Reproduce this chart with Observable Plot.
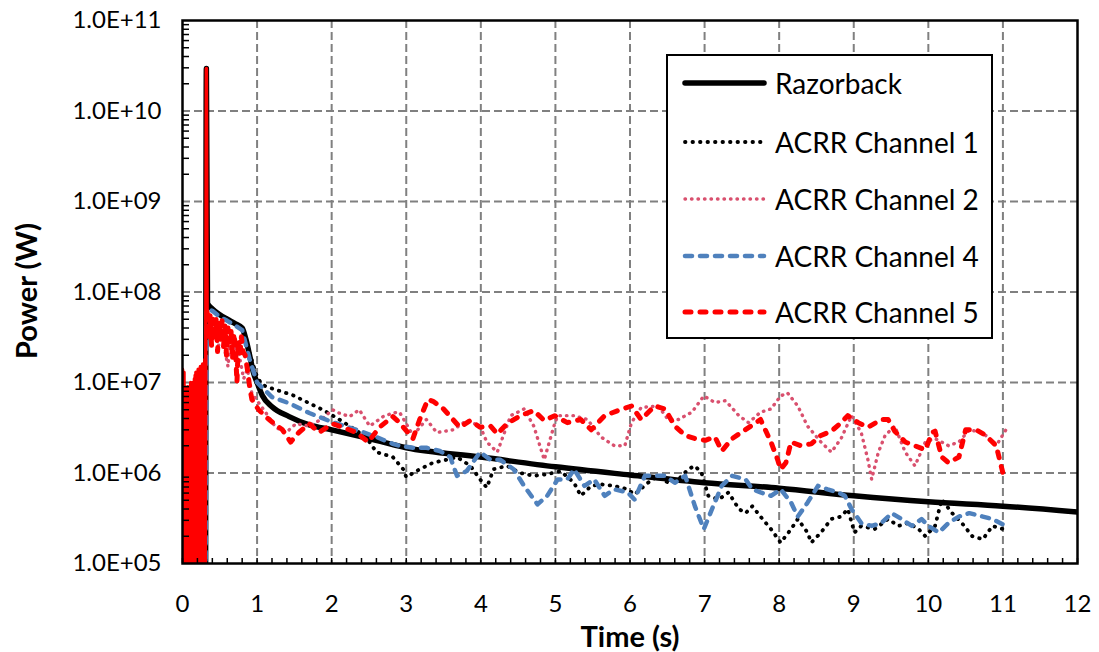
<!DOCTYPE html>
<html><head><meta charset="utf-8">
<script src="https://cdn.jsdelivr.net/npm/d3@7"></script>
<script src="https://cdn.jsdelivr.net/npm/@observablehq/plot@0.6"></script>
<style>body{margin:0;background:#fff;} svg{display:block}</style>
</head><body><div id="chart"></div>
<script>
const xTicks = [0,1,2,3,4,5,6,7,8,9,10,11,12];
const yTicks = [1e5,1e6,1e7,1e8,1e9,1e10,1e11];
const yTickLabels = ["1.0E+05","1.0E+06","1.0E+07","1.0E+08","1.0E+09","1.0E+10","1.0E+11"];
const minorMultipliers = [2,3,4,5,6,7,8,9];
const seriesNames = ["Razorback","ACRR Channel 1","ACRR Channel 2","ACRR Channel 4","ACRR Channel 5"];

const razorback = [[0.31,1e5],[0.32,2.95e10],[0.335,7.5e7],[0.4,6.5e7],[0.5,5.6e7],[0.6,5.0e7],[0.7,4.5e7],[0.8,4.0e7],[0.85,3.0e7],[0.9,2.0e7],[0.95,1.3e7],[1.0,1.0e7],[1.07,7.2e6],[1.2,5.4e6],[1.43,4.2e6],[1.7,3.4e6],[2.0,3.0e6],[2.42,2.5e6],[3.0,1.9e6],[4.0,1.5e6],[5.0,1.17e6],[6.0,9.5e5],[7.0,7.8e5],[8.0,6.8e5],[9.0,5.6e5],[10.0,4.8e5],[11.0,4.3e5],[12.0,3.7e5]];

const ch1 = [[0.335,7.3e7],[0.5,5.5e7],[0.7,4.4e7],[0.8,3.9e7],[0.9,2.1e7],[1.0,1.15e7],[1.07,9.4e6],[1.25,8.3e6],[1.47,7.3e6],[1.70,5.9e6],[1.88,5.0e6],[2.06,4.1e6],[2.24,3.3e6],[2.46,2.5e6],[2.60,1.7e6],[2.82,1.5e6],[2.96,1.1e6],[3.00,9.0e5],[3.18,1.1e6],[3.36,1.3e6],[3.54,1.4e6],[3.68,1.5e6],[3.86,1.2e6],[3.99,8.5e5],[4.08,6.9e5],[4.17,1.1e6],[4.35,1.2e6],[4.53,1.0e6],[4.71,9.3e5],[4.89,9.7e5],[5.07,1.05e6],[5.25,7.8e5],[5.34,5.6e5],[5.48,7.2e5],[5.61,7.5e5],[5.79,7.2e5],[5.97,6.6e5],[6.06,5.8e5],[6.24,7.8e5],[6.38,9.3e5],[6.51,7.8e5],[6.65,8.5e5],[6.78,1.1e6],[6.87,1.2e6],[6.96,1.0e6],[7.05,5.6e5],[7.19,5.1e5],[7.32,6.1e5],[7.46,4.0e5],[7.55,3.6e5],[7.64,4.3e5],[7.75,3.3e5],[7.89,2.4e5],[8.02,1.7e5],[8.16,2.4e5],[8.25,3.1e5],[8.38,2.2e5],[8.43,1.7e5],[8.56,2.2e5],[8.70,3.1e5],[8.83,3.3e5],[8.92,4.0e5],[9.01,2.2e5],[9.10,2.6e5],[9.28,2.4e5],[9.46,3.1e5],[9.60,2.6e5],[9.73,2.8e5],[9.87,2.4e5],[9.96,2.0e5],[10.09,2.6e5],[10.18,5.1e5],[10.32,3.6e5],[10.45,2.8e5],[10.59,2.0e5],[10.73,1.85e5],[10.86,2.6e5],[11.0,2.4e5]];

const ch2 = [[0.335,5e7],[0.38,3e7],[0.43,4e7],[0.48,2.5e7],[0.53,3.5e7],[0.58,2e7],[0.61,1.5e7],[0.64,3e7],[0.70,2.5e7],[0.76,2e7],[0.82,1.1e7],[0.87,1.4e7],[0.93,7.6e6],[1.12,4.6e6],[1.25,3.2e6],[1.39,2.8e6],[1.52,3.5e6],[1.70,3.3e6],[1.88,4.0e6],[2.01,5.0e6],[2.10,4.6e6],[2.24,4.2e6],[2.37,5.0e6],[2.51,3.3e6],[2.69,4.2e6],[2.82,4.6e6],[2.91,4.7e6],[3.09,2.6e6],[3.27,3.9e6],[3.41,2.8e6],[3.63,3.0e6],[3.81,3.8e6],[3.99,3.3e6],[4.08,2.2e6],[4.22,1.7e6],[4.40,4.3e6],[4.58,5.1e6],[4.71,3.3e6],[4.85,1.4e6],[4.98,3.3e6],[5.03,4.3e6],[5.25,4.3e6],[5.43,3.9e6],[5.61,2.5e6],[5.79,2.0e6],[5.93,2.0e6],[6.02,3.6e6],[6.15,5.3e6],[6.38,5.5e6],[6.51,3.9e6],[6.65,3.9e6],[6.83,4.7e6],[6.99,7.1e6],[7.14,6.0e6],[7.28,6.3e6],[7.46,4.3e6],[7.59,3.6e6],[7.75,4.7e6],[7.89,5.1e6],[8.02,7.1e6],[8.11,7.7e6],[8.25,5.5e6],[8.38,3.3e6],[8.56,2.2e6],[8.70,1.7e6],[8.83,2.4e6],[8.97,4.3e6],[9.10,2.8e6],[9.19,1.4e6],[9.24,8.5e5],[9.33,1.7e6],[9.42,2.6e6],[9.55,3.3e6],[9.69,1.7e6],[9.82,1.2e6],[9.96,2.2e6],[10.09,2.4e6],[10.27,2.0e6],[10.41,2.2e6],[10.55,3.0e6],[10.73,2.8e6],[10.91,2.0e6],[11.04,3.0e6]];

const ch4 = [[0,2e5],[0.01,1e5],[0.02,1.8e5],[0.03,1e5],[0.04,1.5e5],[0.05,1e5],[0.06,1.7e5],[0.07,1e5],[0.08,1.3e5],[0.09,1e5],[0.10,1.6e5],[0.11,1e5],[0.12,1.2e5],[0.13,1e5],[0.14,1.5e5],[0.15,1e5],[0.16,1.3e5],[0.17,1e5],[0.18,1.2e5],[0.19,1e5],[0.20,1.4e5],[0.21,1e5],[0.22,1.6e5],[0.23,1e5],[0.24,1.3e5],[0.25,1e5],[0.26,1.5e5],[0.27,1e5],[0.28,1.8e5],[0.29,1e5],[0.30,1.7e5],[0.31,1e5],[0.325,6.5e7],[0.4,6.2e7],[0.5,5.3e7],[0.6,4.8e7],[0.7,4.3e7],[0.8,3.8e7],[0.9,1.8e7],[1.0,1.0e7],[1.20,6.9e6],[1.43,5.9e6],[1.70,4.6e6],[1.99,3.7e6],[2.33,3.0e6],[2.60,2.5e6],[2.82,2.1e6],[2.91,2.0e6],[3.09,1.9e6],[3.27,1.9e6],[3.45,1.75e6],[3.59,1.5e6],[3.68,9.3e5],[3.81,1.05e6],[3.99,1.7e6],[4.13,1.4e6],[4.26,1.4e6],[4.44,1.1e6],[4.58,7.2e5],[4.76,4.5e5],[4.89,5.6e5],[5.03,8.5e5],[5.16,8.5e5],[5.25,1.1e6],[5.39,7.2e5],[5.52,8.5e5],[5.66,5.6e5],[5.79,6.6e5],[5.97,6.1e5],[6.06,5.1e5],[6.20,9.3e5],[6.33,9.3e5],[6.47,9.3e5],[6.60,7.8e5],[6.74,9.3e5],[6.87,4.3e5],[6.99,2.4e5],[7.10,4.0e5],[7.23,7.2e5],[7.37,9.3e5],[7.55,8.5e5],[7.64,6.6e5],[7.75,6.1e5],[7.89,5.6e5],[8.02,6.6e5],[8.16,4.7e5],[8.25,3.3e5],[8.38,4.7e5],[8.52,7.2e5],[8.65,6.6e5],[8.79,6.1e5],[8.88,5.6e5],[8.97,4.0e5],[9.10,2.8e5],[9.24,2.6e5],[9.37,2.8e5],[9.51,3.6e5],[9.64,3.1e5],[9.78,2.6e5],[9.91,3.1e5],[10.0,2.6e5],[10.14,2.2e5],[10.27,2.8e5],[10.41,3.3e5],[10.55,3.6e5],[10.73,3.3e5],[10.86,3.1e5],[11.04,2.6e5]];

// early oscillating part of channel 5 (before the pulse)
const ch5Early = [[0.000,1.4e7],[0.005,1e5],[0.010,1.2e7],[0.015,1.5e5],[0.020,1.3e7],[0.025,1e5],[0.030,9e6],[0.035,2e5],[0.040,8e6],[0.045,1e5],[0.050,7e6],[0.055,1.2e5],[0.060,8e6],[0.065,1e5],[0.070,9e6],[0.075,1.5e5],[0.080,6e6],[0.085,1e5],[0.090,8e6],[0.095,1e5],[0.100,9e6],[0.105,1.3e5],[0.110,1e7],[0.115,1e5],[0.120,8e6],[0.125,1e5],[0.130,9e6],[0.135,2e5],[0.140,1e7],[0.145,1e5],[0.150,9e6],[0.155,1e5],[0.160,1.1e7],[0.165,1.4e5],[0.170,1.2e7],[0.175,1e5],[0.180,1.3e7],[0.185,1e5],[0.190,1.1e7],[0.195,1.2e5],[0.200,1.2e7],[0.205,1e5],[0.210,1.4e7],[0.215,1e5],[0.220,1.3e7],[0.225,1.6e5],[0.230,1.2e7],[0.235,1e5],[0.240,1.5e7],[0.245,1e5],[0.250,1.3e7],[0.255,1.2e5],[0.260,1.4e7],[0.265,1e5],[0.270,1.6e7],[0.275,1e5],[0.280,1.3e7],[0.285,1.5e5],[0.290,1.5e7],[0.295,1e5],[0.300,1.8e7],[0.305,1e5],[0.312,2e7],[0.320,2.95e10],[0.330,6e7]];

const ch5 = [[0.330,6e7],[0.35,3e7],[0.37,5.5e7],[0.39,2.5e7],[0.41,5e7],[0.43,3e7],[0.45,5e7],[0.47,2.2e7],[0.49,4.5e7],[0.51,3e7],[0.53,4.8e7],[0.55,2.5e7],[0.57,4.2e7],[0.59,2e7],[0.61,4e7],[0.63,2.8e7],[0.65,3.8e7],[0.67,1.8e7],[0.69,3.5e7],[0.71,2.4e7],[0.73,1.0e7],[0.75,3e7],[0.77,2e7],[0.79,3.2e7],[0.81,2.2e7],[0.84,2.0e7],[0.87,1.4e7],[0.90,9e6],[0.93,6.5e6],[1.02,5.0e6],[1.16,3.9e6],[1.34,3.0e6],[1.45,2.2e6],[1.56,2.8e6],[1.70,3.5e6],[1.83,2.8e6],[2.01,3.5e6],[2.15,3.2e6],[2.33,2.8e6],[2.49,2.2e6],[2.64,3.2e6],[2.82,4.2e6],[2.91,3.6e6],[3.09,2.4e6],[3.18,3.9e6],[3.29,6.5e6],[3.36,6.2e6],[3.50,5.1e6],[3.72,3.2e6],[3.86,3.8e6],[3.99,3.2e6],[4.13,3.3e6],[4.22,2.7e6],[4.35,3.5e6],[4.53,4.3e6],[4.71,4.9e6],[4.85,3.8e6],[4.99,4.3e6],[5.16,3.6e6],[5.34,3.9e6],[5.48,3.0e6],[5.66,4.3e6],[5.84,4.9e6],[6.02,5.5e6],[6.15,3.9e6],[6.33,5.5e6],[6.47,5.1e6],[6.60,3.3e6],[6.74,2.6e6],[6.87,2.4e6],[7.01,2.3e6],[7.14,2.5e6],[7.23,1.75e6],[7.37,2.4e6],[7.62,3.3e6],[7.75,3.9e6],[7.89,2.2e6],[7.98,1.4e6],[8.02,1.1e6],[8.09,1.3e6],[8.16,2.2e6],[8.29,2.0e6],[8.43,2.1e6],[8.56,2.6e6],[8.70,2.9e6],[8.83,3.6e6],[8.92,4.3e6],[9.06,3.6e6],[9.19,3.2e6],[9.37,3.9e6],[9.46,3.9e6],[9.55,2.9e6],[9.69,2.2e6],[9.82,2.0e6],[9.96,1.8e6],[10.05,2.8e6],[10.09,2.9e6],[10.18,1.5e6],[10.27,1.3e6],[10.41,1.5e6],[10.50,3.0e6],[10.64,3.0e6],[10.77,2.6e6],[10.91,2.0e6],[11.0,1.0e6]];

const styles = [
  {stroke:"#000000", strokeWidth:5.5, dash:null, cap:"butt"},
  {stroke:"#000000", strokeWidth:3.8, dash:"0.5,7", cap:"round"},
  {stroke:"#d9506e", strokeWidth:3.4, dash:"0.5,6", cap:"round"},
  {stroke:"#4f81bd", strokeWidth:4.5, dash:"7,8", cap:"round"},
  {stroke:"#ff0000", strokeWidth:5, dash:"6,9", cap:"round"}
];

const minorY = [];
for (const d of yTicks.slice(0,-1)) for (const m of minorMultipliers) minorY.push(d*m);
const minorX = d3.range(0, 12.0001, 0.2);

const lineOpts = (s) => ({x: d => d[0], y: d => d[1], stroke: s.stroke, strokeWidth: s.strokeWidth, strokeDasharray: s.dash || undefined, strokeLinecap: s.cap, strokeLinejoin: "round", clip: true});

const plot = Plot.plot({
  width: 1099, height: 652,
  marginLeft: 182, marginRight: 22, marginTop: 20, marginBottom: 89,
  style: {fontFamily: "Lato, sans-serif", fontSize: "24px", color: "#000", background: "#fff"},
  x: {domain: [0, 12]},
  y: {type: "log", domain: [1e5, 1e11]},
  marks: [
    Plot.gridX(xTicks.slice(1, -1), {stroke: "#808080", strokeOpacity: 1, strokeWidth: 2, strokeDasharray: "8,4"}),
    Plot.gridY(yTicks.slice(1, -1), {stroke: "#808080", strokeOpacity: 1, strokeWidth: 2, strokeDasharray: "8,4"}),
    Plot.line(razorback, {...lineOpts(styles[0]), curve: "monotone-x"}),
    Plot.line(ch1, lineOpts(styles[1])),
    Plot.line(ch2, lineOpts(styles[2])),
    Plot.line(ch4, lineOpts(styles[3])),
    Plot.line(ch5Early, {x: d => d[0], y: d => d[1], stroke: "#ff0000", strokeWidth: 3.5, clip: true}),
    Plot.line(ch5, lineOpts(styles[4])),
    Plot.tickY(minorY, {y: d => d, stroke: "#000", strokeWidth: 1.5, insetRight: 888}),
    Plot.tickX(minorX, {x: d => d, stroke: "#000", strokeWidth: 1.5, insetTop: 538}),
    Plot.frame({stroke: "#000", strokeWidth: 2.5}),
    Plot.axisX(xTicks, {tickSize: 0, tickPadding: 31, label: null}),
    Plot.axisY(yTicks, {tickSize: 0, tickPadding: 21, label: null, tickFormat: (d) => yTickLabels[yTicks.indexOf(d)]})
  ]
});
document.getElementById("chart").appendChild(plot);

const svg = d3.select(plot);
// axis titles
svg.append("text").attr("x", 630).attr("y", 635).attr("text-anchor", "middle").attr("dominant-baseline", "central")
  .attr("font-family", "Lato, sans-serif").attr("font-size", 29).attr("font-weight", "bold").text("Time (s)");
svg.append("text").attr("transform", "translate(25,291) rotate(-90)").attr("text-anchor", "middle").attr("dominant-baseline", "central")
  .attr("font-family", "Lato, sans-serif").attr("font-size", 29).attr("font-weight", "bold").text("Power (W)");

// legend
const lg = svg.append("g");
lg.append("rect").attr("x", 667).attr("y", 55).attr("width", 325).attr("height", 283)
  .attr("fill", "#fff").attr("stroke", "#000").attr("stroke-width", 2);
const rowsY = [83, 142, 199, 256, 312];
seriesNames.forEach((name, i) => {
  const s = styles[i];
  lg.append("line").attr("x1", 685).attr("x2", 764).attr("y1", rowsY[i]).attr("y2", rowsY[i])
    .attr("stroke", s.stroke).attr("stroke-width", s.strokeWidth)
    .attr("stroke-dasharray", s.dash).attr("stroke-linecap", i === 0 ? "round" : s.cap);
  lg.append("text").attr("x", 775).attr("y", rowsY[i]).attr("text-anchor", "start").attr("dominant-baseline", "central")
    .attr("font-family", "Lato, sans-serif").attr("font-size", 28).text(name);
});
</script>
</body></html>
